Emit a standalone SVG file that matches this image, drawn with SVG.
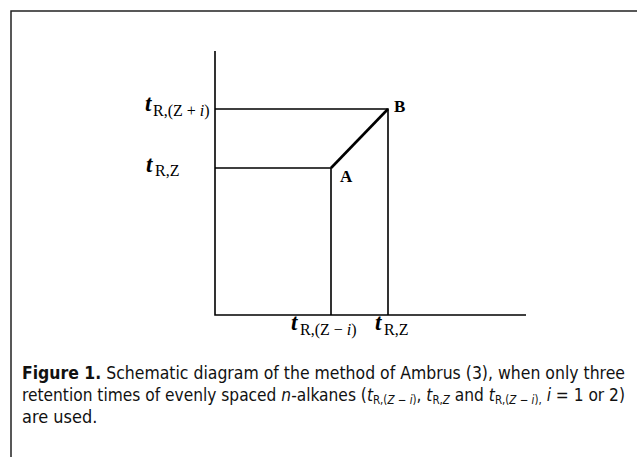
<svg xmlns="http://www.w3.org/2000/svg" width="637" height="457" viewBox="0 0 637 457">
<style>
.frame{fill:none;stroke:#222;stroke-width:1.5}
.ln{fill:none;stroke:#000;stroke-width:1.6}
.diag{fill:none;stroke:#000;stroke-width:2.6}
.t{font-family:"Liberation Serif","Times New Roman",serif;font-style:italic;font-weight:bold;font-size:23px;fill:#000}
.sub{font-family:"Liberation Serif","Times New Roman",serif;font-size:16px;fill:#000}
.pt{font-family:"Liberation Serif","Times New Roman",serif;font-weight:bold;font-size:17px;fill:#000}
.cap{font-family:"Liberation Sans Narrow","DejaVu Sans Condensed","Liberation Sans",sans-serif;font-size:18px;fill:#111}
.it{font-style:italic}
.cs{font-size:12px}
</style>
<rect width="637" height="457" fill="#fff"/>
<path class="frame" d="M11,457 V11 H637"/>
<g id="connectors">
<path class="ln" d="M215,51 V315 H526"/>
<path class="ln" d="M215,109 H388 V315"/>
<path class="ln" d="M215,168 H331 V315"/>
<path class="diag" d="M331,168 L388,109"/>
</g>
<g id="label-tRZi-plus">
<text class="t" x="145" y="111">t</text>
<text class="sub" x="153" y="116">R,(Z + <tspan class="it">i</tspan>)</text>
</g>
<g id="label-tRZ-left">
<text class="t" x="146" y="172">t</text>
<text class="sub" x="155" y="176">R,Z</text>
</g>
<g id="label-tRZi-minus">
<text class="t" x="291" y="330">t</text>
<text class="sub" x="300" y="335">R,(Z − <tspan class="it">i</tspan>)</text>
</g>
<g id="label-tRZ-bottom">
<text class="t" x="375" y="330">t</text>
<text class="sub" x="384" y="335">R,Z</text>
</g>
<g id="point-A"><text class="pt" x="340" y="182">A</text></g>
<g id="point-B"><text class="pt" x="394" y="112">B</text></g>
<g id="caption">
<text class="cap" x="22" y="379" textLength="603" lengthAdjust="spacingAndGlyphs"><tspan font-weight="bold">Figure 1.</tspan> Schematic diagram of the method of Ambrus (3), when only three</text>
<text class="cap" x="22" y="401" textLength="603" lengthAdjust="spacingAndGlyphs">retention times of evenly spaced <tspan class="it">n</tspan>-alkanes (<tspan class="it">t</tspan><tspan class="cs" dy="3">R,(<tspan class="it">Z</tspan> − <tspan class="it">i</tspan>)</tspan><tspan dy="-3">, </tspan><tspan class="it">t</tspan><tspan class="cs" dy="3">R,<tspan class="it">Z</tspan></tspan><tspan dy="-3"> and </tspan><tspan class="it">t</tspan><tspan class="cs" dy="3">R,(<tspan class="it">Z</tspan> − <tspan class="it">i</tspan>),</tspan><tspan dy="-3"> </tspan><tspan class="it">i</tspan> = 1 or 2)</text>
<text class="cap" x="22" y="423">are used.</text>
</g>
</svg>
